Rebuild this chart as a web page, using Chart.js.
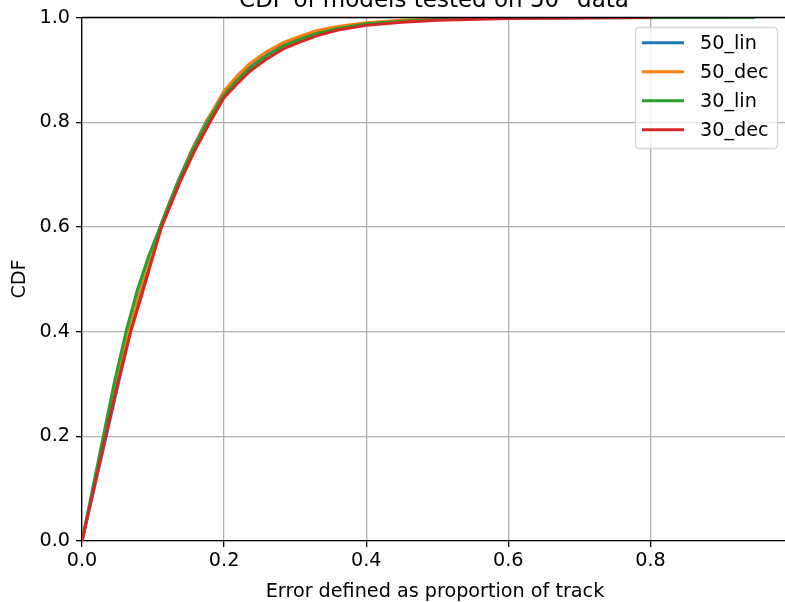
<!DOCTYPE html>
<html>
<head>
<meta charset="utf-8">
<script src="https://cdn.jsdelivr.net/npm/chart.js@4.4.0/dist/chart.umd.min.js"></script>
<style>
  html, body { margin: 0; padding: 0; background: #fff; }
  #wrap { width: 785px; height: 602px; overflow: hidden; }
</style>
</head>
<body>
<div id="wrap"><canvas id="cdfChart" width="785" height="602"></canvas></div>
<script>
// 数据
const seriesNames = ['50_lin', '50_dec', '30_lin', '30_dec'];
const seriesColors = ['#1f77b4', '#ff7f0e', '#2ca02c', '#d62728'];

const lin50X = [0, 0.017, 0.034, 0.051, 0.068, 0.083, 0.097, 0.111, 0.124, 0.136, 0.155, 0.175, 0.200, 0.218, 0.236, 0.260, 0.283, 0.310, 0.330, 0.360, 0.400, 0.450, 0.500, 0.600, 0.720];
const lin50Y = [0, 0.10, 0.20, 0.30, 0.40, 0.47, 0.54, 0.60, 0.648, 0.690, 0.748, 0.802, 0.855, 0.882, 0.905, 0.929, 0.947, 0.962, 0.971, 0.980, 0.989, 0.994, 0.997, 0.999, 1.0];

const dec50X = [0, 0.016, 0.032, 0.048, 0.065, 0.080, 0.095, 0.110, 0.123, 0.136, 0.155, 0.176, 0.200, 0.218, 0.236, 0.260, 0.283, 0.310, 0.330, 0.360, 0.400, 0.450, 0.500, 0.600, 0.680];
const dec50Y = [0, 0.10, 0.20, 0.30, 0.40, 0.475, 0.54, 0.60, 0.646, 0.689, 0.748, 0.803, 0.860, 0.888, 0.912, 0.935, 0.952, 0.966, 0.975, 0.983, 0.990, 0.995, 0.997, 0.999, 1.0];

const lin30X = [0, 0.015, 0.030, 0.045, 0.062, 0.078, 0.094, 0.110, 0.123, 0.136, 0.155, 0.176, 0.200, 0.218, 0.236, 0.260, 0.283, 0.310, 0.330, 0.360, 0.400, 0.450, 0.500, 0.600, 0.700, 0.947];
const lin30Y = [0, 0.10, 0.20, 0.30, 0.40, 0.48, 0.545, 0.60, 0.645, 0.688, 0.745, 0.800, 0.853, 0.880, 0.903, 0.927, 0.945, 0.960, 0.969, 0.979, 0.988, 0.993, 0.996, 0.999, 0.9995, 1.0];

const dec30X = [0, 0.0165, 0.033, 0.050, 0.0685, 0.084, 0.098, 0.112, 0.125, 0.138, 0.158, 0.180, 0.200, 0.218, 0.236, 0.260, 0.283, 0.310, 0.330, 0.360, 0.400, 0.450, 0.500, 0.600, 0.800];
const dec30Y = [0, 0.10, 0.20, 0.30, 0.40, 0.47, 0.535, 0.60, 0.643, 0.686, 0.744, 0.800, 0.847, 0.873, 0.897, 0.921, 0.940, 0.955, 0.965, 0.976, 0.985, 0.991, 0.995, 0.998, 1.0];

const xTicks = [0, 0.2, 0.4, 0.6, 0.8];
const yTicks = [0, 0.2, 0.4, 0.6, 0.8, 1.0];

const titleText = 'CDF of models tested on 50" data';
const xLabel = 'Error defined as proportion of track';
const yLabel = 'CDF';

const FONT = "'DejaVu Sans', sans-serif";
const FS = 19.2;

function toPoints(xs, ys) {
    return xs.map((x, i) => ({ x: x, y: ys[i] }));
}

const allX = [lin50X, dec50X, lin30X, dec30X];
const allY = [lin50Y, dec50Y, lin30Y, dec30Y];

// matplotlib 风格：后画的在上层
const datasets = seriesNames.map((name, i) => ({
    label: name,
    data: toPoints(allX[i], allY[i]),
    borderColor: seriesColors[i],
    backgroundColor: seriesColors[i],
    borderWidth: 3,
    pointRadius: 0,
    tension: 0,
    fill: false,
    order: seriesNames.length - i
}));

// 标题、图例、上边框、轴标题
const decorPlugin = {
    id: 'decor',
    afterDraw(chart) {
        const c = chart.ctx;
        const a = chart.chartArea;
        c.save();

        // 上边框
        c.strokeStyle = '#000';
        c.lineWidth = 1.3;
        c.beginPath();
        c.moveTo(a.left - 0.5, a.top);
        c.lineTo(a.right, a.top);
        c.stroke();

        // 标题（被裁切一半）
        c.fillStyle = '#000';
        c.font = '23px ' + FONT;
        c.textAlign = 'center';
        c.textBaseline = 'alphabetic';
        c.fillText(titleText, 434, 7);

        // x 轴标题
        c.font = FS + 'px ' + FONT;
        c.fillText(xLabel, 435, 597);

        // y 轴标题
        c.save();
        c.translate(20, 279);
        c.rotate(-Math.PI / 2);
        c.textBaseline = 'middle';
        c.fillText(yLabel, 0, 0);
        c.restore();

        // 图例
        const bx = 635.5, by = 27.5, bw = 142, bh = 121, r = 4;
        c.beginPath();
        c.moveTo(bx + r, by);
        c.lineTo(bx + bw - r, by);
        c.quadraticCurveTo(bx + bw, by, bx + bw, by + r);
        c.lineTo(bx + bw, by + bh - r);
        c.quadraticCurveTo(bx + bw, by + bh, bx + bw - r, by + bh);
        c.lineTo(bx + r, by + bh);
        c.quadraticCurveTo(bx, by + bh, bx, by + bh - r);
        c.lineTo(bx, by + r);
        c.quadraticCurveTo(bx, by, bx + r, by);
        c.closePath();
        c.fillStyle = 'rgba(255,255,255,0.8)';
        c.fill();
        c.strokeStyle = 'rgba(204,204,204,0.8)';
        c.lineWidth = 1.3;
        c.stroke();

        c.font = FS + 'px ' + FONT;
        c.textAlign = 'left';
        c.textBaseline = 'middle';
        seriesNames.forEach((name, i) => {
            const y = 42.7 + i * 29;
            c.strokeStyle = seriesColors[i];
            c.lineWidth = 3;
            c.beginPath();
            c.moveTo(642, y);
            c.lineTo(684, y);
            c.stroke();
            c.fillStyle = '#000';
            c.fillText(name, 700, y + 1);
        });

        c.restore();
    }
};

const ctx = document.getElementById('cdfChart').getContext('2d');
const cdfChart = new Chart(ctx, {
    type: 'line',
    data: { datasets: datasets },
    options: {
        responsive: false,
        animation: false,
        devicePixelRatio: 1,
        layout: {
            padding: { top: 16, right: 0, left: 0, bottom: 0 }
        },
        plugins: {
            legend: { display: false },
            title: { display: false },
            tooltip: { enabled: false }
        },
        scales: {
            x: {
                type: 'linear',
                min: 0,
                max: 0.9894,
                afterBuildTicks(scale) {
                    scale.ticks = xTicks.map(v => ({ value: v }));
                },
                afterFit(scale) {
                    scale.height = 61;
                },
                ticks: {
                    color: '#000',
                    font: { family: FONT, size: FS },
                    padding: 2,
                    maxRotation: 0,
                    callback: v => v.toFixed(1)
                },
                grid: {
                    color: '#b0b0b0',
                    lineWidth: 1.3,
                    tickLength: 6,
                    tickColor: '#000'
                },
                border: { color: '#000', width: 1.3 }
            },
            y: {
                type: 'linear',
                min: 0,
                max: 1,
                afterBuildTicks(scale) {
                    scale.ticks = yTicks.map(v => ({ value: v }));
                },
                afterFit(scale) {
                    scale.width = 82;
                },
                ticks: {
                    color: '#000',
                    font: { family: FONT, size: FS },
                    padding: 6,
                    callback: v => v.toFixed(1)
                },
                grid: {
                    color: '#b0b0b0',
                    lineWidth: 1.3,
                    tickLength: 6,
                    tickColor: '#000'
                },
                border: { color: '#000', width: 1.3 }
            }
        }
    },
    plugins: [decorPlugin]
});
</script>
</body>
</html>
